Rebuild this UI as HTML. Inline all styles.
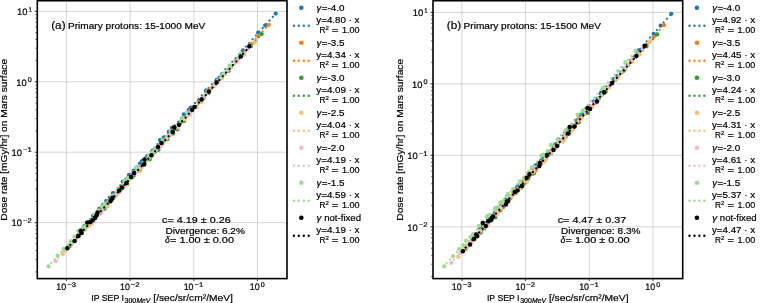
<!DOCTYPE html>
<html><head><meta charset="utf-8"><title>Dose rate vs IP SEP</title>
<style>html,body{margin:0;padding:0;background:#fff;}svg{display:block;will-change:transform;opacity:0.9999;}text{font-family:"Liberation Sans", sans-serif;fill:#000;stroke:#000;stroke-width:0.2px;}.g{text-rendering:geometricPrecision;}</style></head><body>
<svg width="760" height="303" viewBox="0 0 760 303" font-family='"Liberation Sans", sans-serif'>
<defs>
<clipPath id="clipa"><rect x="37.3" y="0.7" width="249.7" height="277.90000000000003"/></clipPath>
<clipPath id="clipb"><rect x="433.0" y="0.7" width="249.70000000000005" height="277.90000000000003"/></clipPath>
</defs>
<rect width="760" height="303" fill="#fff"/>
<rect x="37.3" y="0.7" width="249.7" height="277.90000000000003" fill="#fff"/>
<line x1="66.40" y1="0.7" x2="66.40" y2="278.6" stroke="#c4c4c4" stroke-width="0.72"/>
<line x1="130.10" y1="0.7" x2="130.10" y2="278.6" stroke="#c4c4c4" stroke-width="0.72"/>
<line x1="193.80" y1="0.7" x2="193.80" y2="278.6" stroke="#c4c4c4" stroke-width="0.72"/>
<line x1="257.50" y1="0.7" x2="257.50" y2="278.6" stroke="#c4c4c4" stroke-width="0.72"/>
<line x1="37.3" y1="11.40" x2="287.0" y2="11.40" stroke="#c4c4c4" stroke-width="0.72"/>
<line x1="37.3" y1="81.80" x2="287.0" y2="81.80" stroke="#c4c4c4" stroke-width="0.72"/>
<line x1="37.3" y1="152.20" x2="287.0" y2="152.20" stroke="#c4c4c4" stroke-width="0.72"/>
<line x1="37.3" y1="222.60" x2="287.0" y2="222.60" stroke="#c4c4c4" stroke-width="0.72"/>
<g clip-path="url(#clipa)">
<g fill="#1f77b4"><circle cx="84.2" cy="226.0" r="2.12"/><circle cx="93.0" cy="215.9" r="2.12"/><circle cx="99.3" cy="208.8" r="2.12"/><circle cx="103.0" cy="204.9" r="2.12"/><circle cx="106.2" cy="201.0" r="2.12"/><circle cx="109.7" cy="197.5" r="2.12"/><circle cx="112.9" cy="193.1" r="2.12"/><circle cx="118.2" cy="189.0" r="2.12"/><circle cx="122.7" cy="181.6" r="2.12"/><circle cx="126.6" cy="178.8" r="2.12"/><circle cx="129.0" cy="174.8" r="2.12"/><circle cx="133.7" cy="170.6" r="2.12"/><circle cx="136.6" cy="167.5" r="2.12"/><circle cx="139.9" cy="163.5" r="2.12"/><circle cx="141.9" cy="161.0" r="2.12"/><circle cx="146.4" cy="157.5" r="2.12"/><circle cx="147.5" cy="155.9" r="2.12"/><circle cx="152.7" cy="150.5" r="2.12"/><circle cx="159.9" cy="140.1" r="2.12"/><circle cx="163.8" cy="137.4" r="2.12"/><circle cx="168.9" cy="131.6" r="2.12"/><circle cx="171.9" cy="127.8" r="2.12"/><circle cx="181.9" cy="118.7" r="2.12"/><circle cx="183.8" cy="114.3" r="2.12"/><circle cx="188.6" cy="109.9" r="2.12"/><circle cx="190.6" cy="107.8" r="2.12"/><circle cx="198.6" cy="101.3" r="2.12"/><circle cx="206.1" cy="90.3" r="2.12"/><circle cx="217.0" cy="79.6" r="2.12"/><circle cx="222.0" cy="74.2" r="2.12"/><circle cx="242.9" cy="50.4" r="2.12"/><circle cx="258.1" cy="32.6" r="2.12"/><circle cx="265.2" cy="25.3" r="2.12"/><circle cx="275.7" cy="13.6" r="2.12"/></g>
<line x1="275.67" y1="13.76" x2="84.19" y2="225.38" stroke="#1f77b4" stroke-width="2.25" stroke-linecap="round" stroke-dasharray="0.01 5.04" stroke-dashoffset="0.95"/>
<g fill="#ff7f0e"><circle cx="77.2" cy="236.0" r="2.12"/><circle cx="85.9" cy="226.3" r="2.12"/><circle cx="92.1" cy="219.7" r="2.12"/><circle cx="96.1" cy="215.7" r="2.12"/><circle cx="98.4" cy="213.3" r="2.12"/><circle cx="102.6" cy="207.9" r="2.12"/><circle cx="107.1" cy="202.9" r="2.12"/><circle cx="112.2" cy="198.1" r="2.12"/><circle cx="114.5" cy="196.3" r="2.12"/><circle cx="119.5" cy="188.4" r="2.12"/><circle cx="121.8" cy="186.3" r="2.12"/><circle cx="126.9" cy="181.3" r="2.12"/><circle cx="130.3" cy="177.9" r="2.12"/><circle cx="132.3" cy="174.7" r="2.12"/><circle cx="134.3" cy="173.6" r="2.12"/><circle cx="139.2" cy="167.9" r="2.12"/><circle cx="140.2" cy="168.6" r="2.12"/><circle cx="145.9" cy="159.7" r="2.12"/><circle cx="152.2" cy="152.9" r="2.12"/><circle cx="155.9" cy="149.6" r="2.12"/><circle cx="162.7" cy="141.5" r="2.12"/><circle cx="165.0" cy="139.8" r="2.12"/><circle cx="174.7" cy="127.9" r="2.12"/><circle cx="177.5" cy="125.5" r="2.12"/><circle cx="181.4" cy="121.7" r="2.12"/><circle cx="183.3" cy="119.4" r="2.12"/><circle cx="190.3" cy="110.6" r="2.12"/><circle cx="199.4" cy="101.3" r="2.12"/><circle cx="210.2" cy="88.7" r="2.12"/><circle cx="214.9" cy="85.0" r="2.12"/><circle cx="235.8" cy="60.9" r="2.12"/><circle cx="250.8" cy="44.4" r="2.12"/><circle cx="258.2" cy="35.9" r="2.12"/><circle cx="268.6" cy="24.9" r="2.12"/></g>
<line x1="268.63" y1="24.62" x2="77.19" y2="236.20" stroke="#ff7f0e" stroke-width="2.25" stroke-linecap="round" stroke-dasharray="0.01 5.04" stroke-dashoffset="0.95"/>
<g fill="#2ca02c"><circle cx="70.1" cy="245.8" r="2.12"/><circle cx="78.7" cy="236.3" r="2.12"/><circle cx="85.1" cy="229.1" r="2.12"/><circle cx="88.6" cy="225.2" r="2.12"/><circle cx="91.9" cy="221.2" r="2.12"/><circle cx="96.3" cy="216.2" r="2.12"/><circle cx="100.0" cy="213.5" r="2.12"/><circle cx="104.7" cy="208.7" r="2.12"/><circle cx="107.3" cy="204.6" r="2.12"/><circle cx="112.8" cy="198.6" r="2.12"/><circle cx="115.6" cy="195.4" r="2.12"/><circle cx="120.3" cy="190.4" r="2.12"/><circle cx="122.8" cy="187.7" r="2.12"/><circle cx="126.5" cy="184.2" r="2.12"/><circle cx="127.2" cy="184.1" r="2.12"/><circle cx="132.6" cy="177.2" r="2.12"/><circle cx="133.6" cy="176.1" r="2.12"/><circle cx="139.4" cy="170.7" r="2.12"/><circle cx="144.8" cy="164.0" r="2.12"/><circle cx="149.8" cy="159.4" r="2.12"/><circle cx="154.9" cy="151.7" r="2.12"/><circle cx="158.4" cy="149.9" r="2.12"/><circle cx="167.5" cy="139.1" r="2.12"/><circle cx="170.0" cy="134.7" r="2.12"/><circle cx="173.2" cy="133.6" r="2.12"/><circle cx="177.3" cy="129.4" r="2.12"/><circle cx="184.1" cy="120.9" r="2.12"/><circle cx="192.1" cy="110.1" r="2.12"/><circle cx="203.3" cy="98.4" r="2.12"/><circle cx="208.5" cy="93.2" r="2.12"/><circle cx="228.7" cy="70.9" r="2.12"/><circle cx="243.7" cy="54.2" r="2.12"/><circle cx="251.2" cy="46.1" r="2.12"/><circle cx="261.7" cy="34.1" r="2.12"/></g>
<line x1="261.73" y1="34.06" x2="70.13" y2="245.82" stroke="#2ca02c" stroke-width="2.25" stroke-linecap="round" stroke-dasharray="0.01 5.04" stroke-dashoffset="0.95"/>
<g fill="#ffbb78"><circle cx="62.8" cy="254.0" r="2.12"/><circle cx="71.8" cy="244.4" r="2.12"/><circle cx="77.9" cy="237.3" r="2.12"/><circle cx="81.9" cy="231.5" r="2.12"/><circle cx="84.6" cy="229.6" r="2.12"/><circle cx="88.9" cy="225.9" r="2.12"/><circle cx="91.8" cy="223.7" r="2.12"/><circle cx="98.1" cy="214.7" r="2.12"/><circle cx="101.2" cy="212.7" r="2.12"/><circle cx="104.8" cy="207.1" r="2.12"/><circle cx="107.7" cy="206.3" r="2.12"/><circle cx="113.5" cy="198.2" r="2.12"/><circle cx="116.0" cy="194.9" r="2.12"/><circle cx="118.2" cy="193.2" r="2.12"/><circle cx="120.6" cy="190.5" r="2.12"/><circle cx="124.8" cy="185.2" r="2.12"/><circle cx="126.4" cy="184.8" r="2.12"/><circle cx="132.2" cy="177.6" r="2.12"/><circle cx="138.6" cy="170.9" r="2.12"/><circle cx="141.5" cy="167.2" r="2.12"/><circle cx="148.4" cy="158.4" r="2.12"/><circle cx="151.3" cy="156.1" r="2.12"/><circle cx="159.9" cy="146.9" r="2.12"/><circle cx="162.2" cy="144.6" r="2.12"/><circle cx="166.6" cy="138.0" r="2.12"/><circle cx="169.3" cy="136.3" r="2.12"/><circle cx="176.2" cy="127.8" r="2.12"/><circle cx="184.8" cy="119.1" r="2.12"/><circle cx="196.5" cy="107.4" r="2.12"/><circle cx="201.6" cy="102.1" r="2.12"/><circle cx="221.8" cy="78.5" r="2.12"/><circle cx="236.6" cy="61.9" r="2.12"/><circle cx="243.9" cy="54.6" r="2.12"/><circle cx="254.4" cy="42.5" r="2.12"/></g>
<line x1="254.40" y1="42.53" x2="62.83" y2="254.26" stroke="#ffbb78" stroke-width="2.25" stroke-linecap="round" stroke-dasharray="0.01 5.04" stroke-dashoffset="0.95"/>
<g fill="#f7b6d2"><circle cx="55.7" cy="261.2" r="2.12"/><circle cx="64.6" cy="250.8" r="2.12"/><circle cx="70.9" cy="244.2" r="2.12"/><circle cx="75.0" cy="240.5" r="2.12"/><circle cx="78.2" cy="234.5" r="2.12"/><circle cx="81.9" cy="231.0" r="2.12"/><circle cx="84.6" cy="230.2" r="2.12"/><circle cx="91.0" cy="221.7" r="2.12"/><circle cx="93.4" cy="220.9" r="2.12"/><circle cx="98.4" cy="214.5" r="2.12"/><circle cx="101.7" cy="211.4" r="2.12"/><circle cx="105.5" cy="205.7" r="2.12"/><circle cx="108.9" cy="201.7" r="2.12"/><circle cx="111.9" cy="200.0" r="2.12"/><circle cx="113.2" cy="195.6" r="2.12"/><circle cx="118.5" cy="193.0" r="2.12"/><circle cx="119.2" cy="190.7" r="2.12"/><circle cx="125.2" cy="185.0" r="2.12"/><circle cx="131.3" cy="177.7" r="2.12"/><circle cx="135.0" cy="173.1" r="2.12"/><circle cx="140.9" cy="166.8" r="2.12"/><circle cx="143.4" cy="165.0" r="2.12"/><circle cx="153.5" cy="151.5" r="2.12"/><circle cx="155.1" cy="150.5" r="2.12"/><circle cx="159.4" cy="146.3" r="2.12"/><circle cx="162.1" cy="143.9" r="2.12"/><circle cx="169.6" cy="135.4" r="2.12"/><circle cx="178.1" cy="127.4" r="2.12"/><circle cx="189.8" cy="114.9" r="2.12"/><circle cx="193.3" cy="108.8" r="2.12"/><circle cx="214.5" cy="85.7" r="2.12"/><circle cx="229.7" cy="68.8" r="2.12"/><circle cx="236.9" cy="61.3" r="2.12"/><circle cx="247.4" cy="49.2" r="2.12"/></g>
<line x1="247.42" y1="49.14" x2="55.73" y2="260.99" stroke="#f7b6d2" stroke-width="2.25" stroke-linecap="round" stroke-dasharray="0.01 5.04" stroke-dashoffset="0.95"/>
<g fill="#98df8a"><circle cx="48.6" cy="266.4" r="2.12"/><circle cx="57.6" cy="255.7" r="2.12"/><circle cx="63.7" cy="248.9" r="2.12"/><circle cx="67.5" cy="246.9" r="2.12"/><circle cx="70.6" cy="241.4" r="2.12"/><circle cx="74.5" cy="236.5" r="2.12"/><circle cx="78.1" cy="231.2" r="2.12"/><circle cx="83.3" cy="227.3" r="2.12"/><circle cx="86.4" cy="224.0" r="2.12"/><circle cx="90.9" cy="220.4" r="2.12"/><circle cx="94.3" cy="214.6" r="2.12"/><circle cx="98.7" cy="210.3" r="2.12"/><circle cx="102.1" cy="206.3" r="2.12"/><circle cx="104.5" cy="204.7" r="2.12"/><circle cx="106.0" cy="204.1" r="2.12"/><circle cx="111.3" cy="196.2" r="2.12"/><circle cx="112.0" cy="196.3" r="2.12"/><circle cx="117.7" cy="189.2" r="2.12"/><circle cx="124.3" cy="181.4" r="2.12"/><circle cx="127.3" cy="178.0" r="2.12"/><circle cx="133.3" cy="172.3" r="2.12"/><circle cx="136.8" cy="167.4" r="2.12"/><circle cx="145.8" cy="159.0" r="2.12"/><circle cx="148.8" cy="155.6" r="2.12"/><circle cx="152.0" cy="152.5" r="2.12"/><circle cx="155.1" cy="148.4" r="2.12"/><circle cx="162.5" cy="140.9" r="2.12"/><circle cx="170.6" cy="131.0" r="2.12"/><circle cx="182.1" cy="118.2" r="2.12"/><circle cx="187.0" cy="112.7" r="2.12"/><circle cx="207.5" cy="91.0" r="2.12"/><circle cx="222.5" cy="74.0" r="2.12"/><circle cx="229.9" cy="65.7" r="2.12"/><circle cx="240.4" cy="53.7" r="2.12"/></g>
<line x1="240.39" y1="54.11" x2="48.64" y2="266.03" stroke="#98df8a" stroke-width="2.25" stroke-linecap="round" stroke-dasharray="0.01 5.04" stroke-dashoffset="0.95"/>
<g fill="#000"><circle cx="67.4" cy="248.2" r="2.25"/><circle cx="74.6" cy="241.0" r="2.25"/><circle cx="78.3" cy="236.1" r="2.25"/><circle cx="80.7" cy="230.8" r="2.25"/><circle cx="81.7" cy="233.0" r="2.25"/><circle cx="87.3" cy="222.6" r="2.25"/><circle cx="90.3" cy="222.0" r="2.25"/><circle cx="92.6" cy="220.3" r="2.25"/><circle cx="95.0" cy="217.9" r="2.25"/><circle cx="96.5" cy="215.2" r="2.25"/><circle cx="97.6" cy="212.5" r="2.25"/><circle cx="110.4" cy="201.2" r="2.25"/><circle cx="111.6" cy="199.3" r="2.25"/><circle cx="112.6" cy="197.7" r="2.25"/><circle cx="119.2" cy="190.4" r="2.25"/><circle cx="121.9" cy="187.4" r="2.25"/><circle cx="126.4" cy="182.9" r="2.25"/><circle cx="131.2" cy="177.1" r="2.25"/><circle cx="134.0" cy="172.9" r="2.25"/><circle cx="143.8" cy="164.4" r="2.25"/><circle cx="144.5" cy="159.4" r="2.25"/><circle cx="151.5" cy="155.2" r="2.25"/><circle cx="158.0" cy="147.1" r="2.25"/><circle cx="161.5" cy="143.1" r="2.25"/><circle cx="172.7" cy="131.7" r="2.25"/><circle cx="174.2" cy="127.2" r="2.25"/><circle cx="179.1" cy="124.7" r="2.25"/><circle cx="192.1" cy="109.7" r="2.25"/><circle cx="194.5" cy="107.0" r="2.25"/><circle cx="201.5" cy="99.6" r="2.25"/><circle cx="208.8" cy="91.5" r="2.25"/><circle cx="216.6" cy="82.5" r="2.25"/><circle cx="240.8" cy="56.4" r="2.25"/><circle cx="249.3" cy="46.3" r="2.25"/></g>
<line x1="249.30" y1="47.06" x2="67.40" y2="248.09" stroke="#000000" stroke-width="2.25" stroke-linecap="round" stroke-dasharray="0.01 5.04" stroke-dashoffset="0.95"/>
</g>
<line x1="66.40" y1="278.6" x2="66.40" y2="281.0" stroke="#000" stroke-width="0.8"/>
<text x="56.25" y="290.00" font-size="9.4" text-anchor="start" textLength="9.90" lengthAdjust="spacingAndGlyphs" class="g">10</text>
<text x="67.15" y="286.60" font-size="6.7" text-anchor="start" textLength="8.80" lengthAdjust="spacingAndGlyphs" class="g">−3</text>
<line x1="130.10" y1="278.6" x2="130.10" y2="281.0" stroke="#000" stroke-width="0.8"/>
<text x="119.95" y="290.00" font-size="9.4" text-anchor="start" textLength="9.90" lengthAdjust="spacingAndGlyphs" class="g">10</text>
<text x="130.85" y="286.60" font-size="6.7" text-anchor="start" textLength="8.80" lengthAdjust="spacingAndGlyphs" class="g">−2</text>
<line x1="193.80" y1="278.6" x2="193.80" y2="281.0" stroke="#000" stroke-width="0.8"/>
<text x="183.65" y="290.00" font-size="9.4" text-anchor="start" textLength="9.90" lengthAdjust="spacingAndGlyphs" class="g">10</text>
<text x="194.55" y="286.60" font-size="6.7" text-anchor="start" textLength="8.80" lengthAdjust="spacingAndGlyphs" class="g">−1</text>
<line x1="257.50" y1="278.6" x2="257.50" y2="281.0" stroke="#000" stroke-width="0.8"/>
<text x="249.75" y="290.00" font-size="9.4" text-anchor="start" textLength="9.90" lengthAdjust="spacingAndGlyphs" class="g">10</text>
<text x="260.65" y="286.60" font-size="6.7" text-anchor="start" textLength="4.00" lengthAdjust="spacingAndGlyphs" class="g">0</text>
<line x1="34.699999999999996" y1="11.40" x2="37.3" y2="11.40" stroke="#000" stroke-width="0.8"/>
<text x="17.00" y="15.10" font-size="9.4" text-anchor="start" textLength="10.50" lengthAdjust="spacingAndGlyphs" class="g">10</text>
<text x="28.50" y="11.60" font-size="6.8" text-anchor="start" textLength="3.30" lengthAdjust="spacingAndGlyphs" class="g">1</text>
<line x1="34.699999999999996" y1="81.80" x2="37.3" y2="81.80" stroke="#000" stroke-width="0.8"/>
<text x="16.30" y="85.50" font-size="9.4" text-anchor="start" textLength="10.50" lengthAdjust="spacingAndGlyphs" class="g">10</text>
<text x="27.80" y="82.00" font-size="6.8" text-anchor="start" textLength="4.00" lengthAdjust="spacingAndGlyphs" class="g">0</text>
<line x1="34.699999999999996" y1="152.20" x2="37.3" y2="152.20" stroke="#000" stroke-width="0.8"/>
<text x="11.50" y="155.90" font-size="9.4" text-anchor="start" textLength="10.50" lengthAdjust="spacingAndGlyphs" class="g">10</text>
<text x="23.00" y="152.40" font-size="6.8" text-anchor="start" textLength="8.80" lengthAdjust="spacingAndGlyphs" class="g">−1</text>
<line x1="34.699999999999996" y1="222.60" x2="37.3" y2="222.60" stroke="#000" stroke-width="0.8"/>
<text x="11.50" y="226.30" font-size="9.4" text-anchor="start" textLength="10.50" lengthAdjust="spacingAndGlyphs" class="g">10</text>
<text x="23.00" y="222.80" font-size="6.8" text-anchor="start" textLength="8.80" lengthAdjust="spacingAndGlyphs" class="g">−2</text>
<line x1="35.3" y1="271.81" x2="37.3" y2="271.81" stroke="#000" stroke-width="0.55"/>
<line x1="35.3" y1="259.41" x2="37.3" y2="259.41" stroke="#000" stroke-width="0.55"/>
<line x1="35.3" y1="250.61" x2="37.3" y2="250.61" stroke="#000" stroke-width="0.55"/>
<line x1="35.3" y1="243.79" x2="37.3" y2="243.79" stroke="#000" stroke-width="0.55"/>
<line x1="35.3" y1="238.22" x2="37.3" y2="238.22" stroke="#000" stroke-width="0.55"/>
<line x1="35.3" y1="233.51" x2="37.3" y2="233.51" stroke="#000" stroke-width="0.55"/>
<line x1="35.3" y1="229.42" x2="37.3" y2="229.42" stroke="#000" stroke-width="0.55"/>
<line x1="35.3" y1="225.82" x2="37.3" y2="225.82" stroke="#000" stroke-width="0.55"/>
<line x1="35.3" y1="201.41" x2="37.3" y2="201.41" stroke="#000" stroke-width="0.55"/>
<line x1="35.3" y1="189.01" x2="37.3" y2="189.01" stroke="#000" stroke-width="0.55"/>
<line x1="35.3" y1="180.21" x2="37.3" y2="180.21" stroke="#000" stroke-width="0.55"/>
<line x1="35.3" y1="173.39" x2="37.3" y2="173.39" stroke="#000" stroke-width="0.55"/>
<line x1="35.3" y1="167.82" x2="37.3" y2="167.82" stroke="#000" stroke-width="0.55"/>
<line x1="35.3" y1="163.11" x2="37.3" y2="163.11" stroke="#000" stroke-width="0.55"/>
<line x1="35.3" y1="159.02" x2="37.3" y2="159.02" stroke="#000" stroke-width="0.55"/>
<line x1="35.3" y1="155.42" x2="37.3" y2="155.42" stroke="#000" stroke-width="0.55"/>
<line x1="35.3" y1="131.01" x2="37.3" y2="131.01" stroke="#000" stroke-width="0.55"/>
<line x1="35.3" y1="118.61" x2="37.3" y2="118.61" stroke="#000" stroke-width="0.55"/>
<line x1="35.3" y1="109.81" x2="37.3" y2="109.81" stroke="#000" stroke-width="0.55"/>
<line x1="35.3" y1="102.99" x2="37.3" y2="102.99" stroke="#000" stroke-width="0.55"/>
<line x1="35.3" y1="97.42" x2="37.3" y2="97.42" stroke="#000" stroke-width="0.55"/>
<line x1="35.3" y1="92.71" x2="37.3" y2="92.71" stroke="#000" stroke-width="0.55"/>
<line x1="35.3" y1="88.62" x2="37.3" y2="88.62" stroke="#000" stroke-width="0.55"/>
<line x1="35.3" y1="85.02" x2="37.3" y2="85.02" stroke="#000" stroke-width="0.55"/>
<line x1="35.3" y1="60.61" x2="37.3" y2="60.61" stroke="#000" stroke-width="0.55"/>
<line x1="35.3" y1="48.21" x2="37.3" y2="48.21" stroke="#000" stroke-width="0.55"/>
<line x1="35.3" y1="39.41" x2="37.3" y2="39.41" stroke="#000" stroke-width="0.55"/>
<line x1="35.3" y1="32.59" x2="37.3" y2="32.59" stroke="#000" stroke-width="0.55"/>
<line x1="35.3" y1="27.02" x2="37.3" y2="27.02" stroke="#000" stroke-width="0.55"/>
<line x1="35.3" y1="22.31" x2="37.3" y2="22.31" stroke="#000" stroke-width="0.55"/>
<line x1="35.3" y1="18.22" x2="37.3" y2="18.22" stroke="#000" stroke-width="0.55"/>
<line x1="35.3" y1="14.62" x2="37.3" y2="14.62" stroke="#000" stroke-width="0.55"/>
<rect x="37.3" y="0.7" width="249.7" height="277.90000000000003" fill="none" stroke="#000" stroke-width="1.6"/>
<text transform="translate(7.40,220.7) rotate(-90)" font-size="9.6" textLength="161.8" lengthAdjust="spacingAndGlyphs">Dose rate [mGy/hr] on Mars surface</text>
<text x="91.30" y="301.30" font-size="9.0" text-anchor="start" textLength="32.60" lengthAdjust="spacingAndGlyphs">IP SEP I</text>
<text x="124.60" y="303.30" font-size="6.4" text-anchor="start" textLength="11.60" lengthAdjust="spacingAndGlyphs">300</text>
<text x="136.40" y="303.30" font-size="6.4" text-anchor="start" textLength="14.00" lengthAdjust="spacingAndGlyphs" font-style="italic">MeV</text>
<text x="153.30" y="301.30" font-size="9.0" text-anchor="start" textLength="79.60" lengthAdjust="spacingAndGlyphs">[/sec/sr/cm²/MeV]</text>
<text x="51.20" y="28.50" font-size="10.8" text-anchor="start" textLength="14.40" lengthAdjust="spacingAndGlyphs">(a)</text>
<text x="68.00" y="28.60" font-size="9.0" text-anchor="start" textLength="137.30" lengthAdjust="spacingAndGlyphs">Primary protons: 15-1000 MeV</text>
<text x="162.10" y="223.30" font-size="9.0" text-anchor="start" textLength="68.60" lengthAdjust="spacingAndGlyphs">c= 4.19 ± 0.26</text>
<text x="165.50" y="233.90" font-size="9.0" text-anchor="start" textLength="79.40" lengthAdjust="spacingAndGlyphs">Divergence: 6.2%</text>
<text x="164.90" y="243.30" font-size="9.0" text-anchor="start" textLength="4.80" lengthAdjust="spacingAndGlyphs" font-style="italic">δ</text>
<text x="170.00" y="243.30" font-size="9.0" text-anchor="start" textLength="64.00" lengthAdjust="spacingAndGlyphs">= 1.00 ± 0.00</text>
<circle cx="301.30" cy="7.70" r="2.3" fill="#1f77b4"/>
<text x="316.60" y="10.80" font-size="9.0" text-anchor="start" textLength="4.90" lengthAdjust="spacingAndGlyphs" font-style="italic">γ</text>
<text x="321.80" y="10.80" font-size="9.0" text-anchor="start" textLength="22.80" lengthAdjust="spacingAndGlyphs">=-4.0</text>
<line x1="292.90" y1="25.80" x2="309.90" y2="25.80" stroke="#1f77b4" stroke-width="2.4" stroke-linecap="round" stroke-dasharray="0.01 4.94" stroke-dashoffset="-1.0"/>
<text x="316.30" y="23.30" font-size="9.0" text-anchor="start" textLength="43.20" lengthAdjust="spacingAndGlyphs">y=4.80 · x</text>
<text x="319.50" y="33.20" font-size="9.0" text-anchor="start" textLength="6.00" lengthAdjust="spacingAndGlyphs">R</text>
<text x="325.50" y="30.00" font-size="6.2" text-anchor="start" textLength="3.40" lengthAdjust="spacingAndGlyphs">2</text>
<text x="331.80" y="33.20" font-size="9.0" text-anchor="start" textLength="6.60" lengthAdjust="spacingAndGlyphs">=</text>
<text x="342.00" y="33.20" font-size="9.0" text-anchor="start" textLength="17.60" lengthAdjust="spacingAndGlyphs">1.00</text>
<circle cx="301.30" cy="42.70" r="2.3" fill="#ff7f0e"/>
<text x="316.60" y="45.80" font-size="9.0" text-anchor="start" textLength="4.90" lengthAdjust="spacingAndGlyphs" font-style="italic">γ</text>
<text x="321.80" y="45.80" font-size="9.0" text-anchor="start" textLength="22.80" lengthAdjust="spacingAndGlyphs">=-3.5</text>
<line x1="292.90" y1="60.80" x2="309.90" y2="60.80" stroke="#ff7f0e" stroke-width="2.4" stroke-linecap="round" stroke-dasharray="0.01 4.94" stroke-dashoffset="-1.0"/>
<text x="316.30" y="58.30" font-size="9.0" text-anchor="start" textLength="43.20" lengthAdjust="spacingAndGlyphs">y=4.34 · x</text>
<text x="319.50" y="68.20" font-size="9.0" text-anchor="start" textLength="6.00" lengthAdjust="spacingAndGlyphs">R</text>
<text x="325.50" y="65.00" font-size="6.2" text-anchor="start" textLength="3.40" lengthAdjust="spacingAndGlyphs">2</text>
<text x="331.80" y="68.20" font-size="9.0" text-anchor="start" textLength="6.60" lengthAdjust="spacingAndGlyphs">=</text>
<text x="342.00" y="68.20" font-size="9.0" text-anchor="start" textLength="17.60" lengthAdjust="spacingAndGlyphs">1.00</text>
<circle cx="301.30" cy="77.70" r="2.3" fill="#2ca02c"/>
<text x="316.60" y="80.80" font-size="9.0" text-anchor="start" textLength="4.90" lengthAdjust="spacingAndGlyphs" font-style="italic">γ</text>
<text x="321.80" y="80.80" font-size="9.0" text-anchor="start" textLength="22.80" lengthAdjust="spacingAndGlyphs">=-3.0</text>
<line x1="292.90" y1="95.80" x2="309.90" y2="95.80" stroke="#2ca02c" stroke-width="2.4" stroke-linecap="round" stroke-dasharray="0.01 4.94" stroke-dashoffset="-1.0"/>
<text x="316.30" y="93.30" font-size="9.0" text-anchor="start" textLength="43.20" lengthAdjust="spacingAndGlyphs">y=4.09 · x</text>
<text x="319.50" y="103.20" font-size="9.0" text-anchor="start" textLength="6.00" lengthAdjust="spacingAndGlyphs">R</text>
<text x="325.50" y="100.00" font-size="6.2" text-anchor="start" textLength="3.40" lengthAdjust="spacingAndGlyphs">2</text>
<text x="331.80" y="103.20" font-size="9.0" text-anchor="start" textLength="6.60" lengthAdjust="spacingAndGlyphs">=</text>
<text x="342.00" y="103.20" font-size="9.0" text-anchor="start" textLength="17.60" lengthAdjust="spacingAndGlyphs">1.00</text>
<circle cx="301.30" cy="112.70" r="2.3" fill="#ffbb78"/>
<text x="316.60" y="115.80" font-size="9.0" text-anchor="start" textLength="4.90" lengthAdjust="spacingAndGlyphs" font-style="italic">γ</text>
<text x="321.80" y="115.80" font-size="9.0" text-anchor="start" textLength="22.80" lengthAdjust="spacingAndGlyphs">=-2.5</text>
<line x1="292.90" y1="130.80" x2="309.90" y2="130.80" stroke="#ffbb78" stroke-width="2.4" stroke-linecap="round" stroke-dasharray="0.01 4.94" stroke-dashoffset="-1.0"/>
<text x="316.30" y="128.30" font-size="9.0" text-anchor="start" textLength="43.20" lengthAdjust="spacingAndGlyphs">y=4.04 · x</text>
<text x="319.50" y="138.20" font-size="9.0" text-anchor="start" textLength="6.00" lengthAdjust="spacingAndGlyphs">R</text>
<text x="325.50" y="135.00" font-size="6.2" text-anchor="start" textLength="3.40" lengthAdjust="spacingAndGlyphs">2</text>
<text x="331.80" y="138.20" font-size="9.0" text-anchor="start" textLength="6.60" lengthAdjust="spacingAndGlyphs">=</text>
<text x="342.00" y="138.20" font-size="9.0" text-anchor="start" textLength="17.60" lengthAdjust="spacingAndGlyphs">1.00</text>
<circle cx="301.30" cy="147.70" r="2.3" fill="#f7b6d2"/>
<text x="316.60" y="150.80" font-size="9.0" text-anchor="start" textLength="4.90" lengthAdjust="spacingAndGlyphs" font-style="italic">γ</text>
<text x="321.80" y="150.80" font-size="9.0" text-anchor="start" textLength="22.80" lengthAdjust="spacingAndGlyphs">=-2.0</text>
<line x1="292.90" y1="165.80" x2="309.90" y2="165.80" stroke="#f7b6d2" stroke-width="2.4" stroke-linecap="round" stroke-dasharray="0.01 4.94" stroke-dashoffset="-1.0"/>
<text x="316.30" y="163.30" font-size="9.0" text-anchor="start" textLength="43.20" lengthAdjust="spacingAndGlyphs">y=4.19 · x</text>
<text x="319.50" y="173.20" font-size="9.0" text-anchor="start" textLength="6.00" lengthAdjust="spacingAndGlyphs">R</text>
<text x="325.50" y="170.00" font-size="6.2" text-anchor="start" textLength="3.40" lengthAdjust="spacingAndGlyphs">2</text>
<text x="331.80" y="173.20" font-size="9.0" text-anchor="start" textLength="6.60" lengthAdjust="spacingAndGlyphs">=</text>
<text x="342.00" y="173.20" font-size="9.0" text-anchor="start" textLength="17.60" lengthAdjust="spacingAndGlyphs">1.00</text>
<circle cx="301.30" cy="182.70" r="2.3" fill="#98df8a"/>
<text x="316.60" y="185.80" font-size="9.0" text-anchor="start" textLength="4.90" lengthAdjust="spacingAndGlyphs" font-style="italic">γ</text>
<text x="321.80" y="185.80" font-size="9.0" text-anchor="start" textLength="22.80" lengthAdjust="spacingAndGlyphs">=-1.5</text>
<line x1="292.90" y1="200.80" x2="309.90" y2="200.80" stroke="#98df8a" stroke-width="2.4" stroke-linecap="round" stroke-dasharray="0.01 4.94" stroke-dashoffset="-1.0"/>
<text x="316.30" y="198.30" font-size="9.0" text-anchor="start" textLength="43.20" lengthAdjust="spacingAndGlyphs">y=4.59 · x</text>
<text x="319.50" y="208.20" font-size="9.0" text-anchor="start" textLength="6.00" lengthAdjust="spacingAndGlyphs">R</text>
<text x="325.50" y="205.00" font-size="6.2" text-anchor="start" textLength="3.40" lengthAdjust="spacingAndGlyphs">2</text>
<text x="331.80" y="208.20" font-size="9.0" text-anchor="start" textLength="6.60" lengthAdjust="spacingAndGlyphs">=</text>
<text x="342.00" y="208.20" font-size="9.0" text-anchor="start" textLength="17.60" lengthAdjust="spacingAndGlyphs">1.00</text>
<circle cx="301.30" cy="217.70" r="2.3" fill="#000000"/>
<text x="316.60" y="220.80" font-size="9.0" text-anchor="start" textLength="4.90" lengthAdjust="spacingAndGlyphs" font-style="italic">γ</text>
<text x="324.20" y="220.80" font-size="9.0" text-anchor="start" textLength="36.80" lengthAdjust="spacingAndGlyphs">not-fixed</text>
<line x1="292.90" y1="235.80" x2="309.90" y2="235.80" stroke="#000000" stroke-width="2.4" stroke-linecap="round" stroke-dasharray="0.01 4.94" stroke-dashoffset="-1.0"/>
<text x="316.30" y="233.30" font-size="9.0" text-anchor="start" textLength="43.20" lengthAdjust="spacingAndGlyphs">y=4.19 · x</text>
<text x="319.50" y="243.20" font-size="9.0" text-anchor="start" textLength="6.00" lengthAdjust="spacingAndGlyphs">R</text>
<text x="325.50" y="240.00" font-size="6.2" text-anchor="start" textLength="3.40" lengthAdjust="spacingAndGlyphs">2</text>
<text x="331.80" y="243.20" font-size="9.0" text-anchor="start" textLength="6.60" lengthAdjust="spacingAndGlyphs">=</text>
<text x="342.00" y="243.20" font-size="9.0" text-anchor="start" textLength="17.60" lengthAdjust="spacingAndGlyphs">1.00</text>
<rect x="433.0" y="0.7" width="249.70000000000005" height="277.90000000000003" fill="#fff"/>
<line x1="461.90" y1="0.7" x2="461.90" y2="278.6" stroke="#c4c4c4" stroke-width="0.72"/>
<line x1="525.60" y1="0.7" x2="525.60" y2="278.6" stroke="#c4c4c4" stroke-width="0.72"/>
<line x1="589.30" y1="0.7" x2="589.30" y2="278.6" stroke="#c4c4c4" stroke-width="0.72"/>
<line x1="653.00" y1="0.7" x2="653.00" y2="278.6" stroke="#c4c4c4" stroke-width="0.72"/>
<line x1="433.0" y1="12.30" x2="682.7" y2="12.30" stroke="#c4c4c4" stroke-width="0.72"/>
<line x1="433.0" y1="83.80" x2="682.7" y2="83.80" stroke="#c4c4c4" stroke-width="0.72"/>
<line x1="433.0" y1="155.30" x2="682.7" y2="155.30" stroke="#c4c4c4" stroke-width="0.72"/>
<line x1="433.0" y1="226.80" x2="682.7" y2="226.80" stroke="#c4c4c4" stroke-width="0.72"/>
<g clip-path="url(#clipb)">
<g fill="#1f77b4"><circle cx="479.8" cy="228.1" r="2.12"/><circle cx="488.4" cy="219.3" r="2.12"/><circle cx="494.8" cy="212.2" r="2.12"/><circle cx="498.0" cy="207.8" r="2.12"/><circle cx="501.1" cy="205.4" r="2.12"/><circle cx="505.4" cy="199.7" r="2.12"/><circle cx="508.3" cy="195.5" r="2.12"/><circle cx="514.2" cy="189.4" r="2.12"/><circle cx="517.5" cy="186.5" r="2.12"/><circle cx="521.3" cy="183.0" r="2.12"/><circle cx="525.4" cy="178.6" r="2.12"/><circle cx="530.0" cy="173.1" r="2.12"/><circle cx="533.2" cy="169.8" r="2.12"/><circle cx="535.3" cy="165.3" r="2.12"/><circle cx="537.6" cy="164.3" r="2.12"/><circle cx="541.1" cy="160.5" r="2.12"/><circle cx="543.0" cy="158.1" r="2.12"/><circle cx="548.4" cy="152.8" r="2.12"/><circle cx="554.9" cy="144.2" r="2.12"/><circle cx="558.8" cy="139.6" r="2.12"/><circle cx="565.1" cy="132.8" r="2.12"/><circle cx="567.4" cy="130.0" r="2.12"/><circle cx="576.4" cy="120.5" r="2.12"/><circle cx="579.9" cy="115.2" r="2.12"/><circle cx="583.3" cy="113.1" r="2.12"/><circle cx="586.2" cy="108.8" r="2.12"/><circle cx="593.9" cy="101.3" r="2.12"/><circle cx="601.1" cy="92.7" r="2.12"/><circle cx="613.5" cy="79.1" r="2.12"/><circle cx="617.4" cy="75.8" r="2.12"/><circle cx="638.5" cy="50.3" r="2.12"/><circle cx="653.6" cy="33.8" r="2.12"/><circle cx="660.7" cy="25.6" r="2.12"/><circle cx="671.3" cy="13.8" r="2.12"/></g>
<line x1="671.27" y1="13.81" x2="479.83" y2="228.70" stroke="#1f77b4" stroke-width="2.25" stroke-linecap="round" stroke-dasharray="0.01 5.04" stroke-dashoffset="3.55"/>
<g fill="#ff7f0e"><circle cx="472.5" cy="239.9" r="2.12"/><circle cx="481.5" cy="230.3" r="2.12"/><circle cx="487.8" cy="222.5" r="2.12"/><circle cx="492.1" cy="218.4" r="2.12"/><circle cx="494.7" cy="216.4" r="2.12"/><circle cx="498.2" cy="209.3" r="2.12"/><circle cx="501.5" cy="206.7" r="2.12"/><circle cx="506.8" cy="201.1" r="2.12"/><circle cx="511.0" cy="196.3" r="2.12"/><circle cx="514.2" cy="193.4" r="2.12"/><circle cx="517.9" cy="188.5" r="2.12"/><circle cx="523.1" cy="182.3" r="2.12"/><circle cx="525.1" cy="182.7" r="2.12"/><circle cx="528.3" cy="176.5" r="2.12"/><circle cx="530.2" cy="174.1" r="2.12"/><circle cx="535.2" cy="170.7" r="2.12"/><circle cx="536.2" cy="169.7" r="2.12"/><circle cx="541.9" cy="161.5" r="2.12"/><circle cx="547.8" cy="155.5" r="2.12"/><circle cx="551.8" cy="150.3" r="2.12"/><circle cx="558.0" cy="145.1" r="2.12"/><circle cx="561.4" cy="140.7" r="2.12"/><circle cx="569.4" cy="131.9" r="2.12"/><circle cx="572.5" cy="128.4" r="2.12"/><circle cx="576.9" cy="122.9" r="2.12"/><circle cx="578.8" cy="118.6" r="2.12"/><circle cx="586.5" cy="112.7" r="2.12"/><circle cx="594.7" cy="103.1" r="2.12"/><circle cx="606.0" cy="91.5" r="2.12"/><circle cx="610.0" cy="85.3" r="2.12"/><circle cx="631.4" cy="61.7" r="2.12"/><circle cx="646.5" cy="44.9" r="2.12"/><circle cx="653.6" cy="36.8" r="2.12"/><circle cx="664.2" cy="25.0" r="2.12"/></g>
<line x1="664.18" y1="24.89" x2="472.46" y2="240.09" stroke="#ff7f0e" stroke-width="2.25" stroke-linecap="round" stroke-dasharray="0.01 5.04" stroke-dashoffset="3.55"/>
<g fill="#2ca02c"><circle cx="465.5" cy="249.0" r="2.12"/><circle cx="474.3" cy="239.3" r="2.12"/><circle cx="480.7" cy="232.7" r="2.12"/><circle cx="484.3" cy="228.5" r="2.12"/><circle cx="487.0" cy="225.0" r="2.12"/><circle cx="491.8" cy="220.1" r="2.12"/><circle cx="495.3" cy="217.4" r="2.12"/><circle cx="500.3" cy="210.3" r="2.12"/><circle cx="503.4" cy="207.0" r="2.12"/><circle cx="507.5" cy="201.5" r="2.12"/><circle cx="510.5" cy="198.1" r="2.12"/><circle cx="515.4" cy="193.5" r="2.12"/><circle cx="518.2" cy="189.9" r="2.12"/><circle cx="521.4" cy="187.6" r="2.12"/><circle cx="523.0" cy="185.0" r="2.12"/><circle cx="527.1" cy="179.9" r="2.12"/><circle cx="528.5" cy="178.1" r="2.12"/><circle cx="533.8" cy="173.6" r="2.12"/><circle cx="540.4" cy="164.5" r="2.12"/><circle cx="544.7" cy="159.7" r="2.12"/><circle cx="551.0" cy="153.5" r="2.12"/><circle cx="553.4" cy="149.0" r="2.12"/><circle cx="563.5" cy="139.6" r="2.12"/><circle cx="565.7" cy="137.1" r="2.12"/><circle cx="569.0" cy="133.6" r="2.12"/><circle cx="572.8" cy="128.6" r="2.12"/><circle cx="578.7" cy="122.4" r="2.12"/><circle cx="587.8" cy="113.0" r="2.12"/><circle cx="598.6" cy="98.3" r="2.12"/><circle cx="603.8" cy="93.2" r="2.12"/><circle cx="624.2" cy="70.6" r="2.12"/><circle cx="639.2" cy="54.5" r="2.12"/><circle cx="646.5" cy="46.4" r="2.12"/><circle cx="657.2" cy="34.4" r="2.12"/></g>
<line x1="657.17" y1="34.26" x2="465.48" y2="249.43" stroke="#2ca02c" stroke-width="2.25" stroke-linecap="round" stroke-dasharray="0.01 5.04" stroke-dashoffset="3.55"/>
<g fill="#ffbb78"><circle cx="458.4" cy="257.0" r="2.12"/><circle cx="467.3" cy="247.3" r="2.12"/><circle cx="473.6" cy="240.1" r="2.12"/><circle cx="477.0" cy="236.7" r="2.12"/><circle cx="479.7" cy="231.6" r="2.12"/><circle cx="483.8" cy="227.4" r="2.12"/><circle cx="487.6" cy="224.6" r="2.12"/><circle cx="493.0" cy="216.9" r="2.12"/><circle cx="496.7" cy="214.6" r="2.12"/><circle cx="500.8" cy="208.9" r="2.12"/><circle cx="504.0" cy="205.0" r="2.12"/><circle cx="509.0" cy="200.4" r="2.12"/><circle cx="511.9" cy="196.4" r="2.12"/><circle cx="514.0" cy="194.5" r="2.12"/><circle cx="516.6" cy="191.4" r="2.12"/><circle cx="520.3" cy="187.6" r="2.12"/><circle cx="522.0" cy="185.4" r="2.12"/><circle cx="526.8" cy="181.2" r="2.12"/><circle cx="533.3" cy="172.1" r="2.12"/><circle cx="537.6" cy="167.7" r="2.12"/><circle cx="543.9" cy="161.7" r="2.12"/><circle cx="546.3" cy="158.6" r="2.12"/><circle cx="555.4" cy="148.4" r="2.12"/><circle cx="557.7" cy="146.2" r="2.12"/><circle cx="562.7" cy="141.8" r="2.12"/><circle cx="565.3" cy="138.0" r="2.12"/><circle cx="572.4" cy="130.0" r="2.12"/><circle cx="581.0" cy="118.8" r="2.12"/><circle cx="592.5" cy="106.9" r="2.12"/><circle cx="595.9" cy="103.3" r="2.12"/><circle cx="617.3" cy="78.7" r="2.12"/><circle cx="632.1" cy="61.8" r="2.12"/><circle cx="639.4" cy="54.3" r="2.12"/><circle cx="650.1" cy="41.2" r="2.12"/></g>
<line x1="650.07" y1="41.72" x2="458.39" y2="256.87" stroke="#ffbb78" stroke-width="2.25" stroke-linecap="round" stroke-dasharray="0.01 5.04" stroke-dashoffset="3.55"/>
<g fill="#f7b6d2"><circle cx="451.4" cy="262.8" r="2.12"/><circle cx="460.0" cy="253.2" r="2.12"/><circle cx="466.4" cy="245.4" r="2.12"/><circle cx="470.1" cy="241.2" r="2.12"/><circle cx="473.2" cy="238.0" r="2.12"/><circle cx="477.1" cy="233.6" r="2.12"/><circle cx="480.1" cy="230.9" r="2.12"/><circle cx="486.1" cy="224.3" r="2.12"/><circle cx="489.5" cy="220.8" r="2.12"/><circle cx="493.1" cy="216.5" r="2.12"/><circle cx="496.4" cy="211.5" r="2.12"/><circle cx="501.1" cy="206.9" r="2.12"/><circle cx="504.1" cy="204.9" r="2.12"/><circle cx="506.8" cy="200.9" r="2.12"/><circle cx="509.7" cy="195.6" r="2.12"/><circle cx="513.4" cy="192.8" r="2.12"/><circle cx="515.2" cy="190.3" r="2.12"/><circle cx="520.7" cy="183.7" r="2.12"/><circle cx="526.5" cy="176.8" r="2.12"/><circle cx="531.3" cy="171.7" r="2.12"/><circle cx="535.8" cy="167.8" r="2.12"/><circle cx="539.0" cy="164.6" r="2.12"/><circle cx="549.0" cy="153.5" r="2.12"/><circle cx="551.3" cy="152.6" r="2.12"/><circle cx="555.1" cy="146.4" r="2.12"/><circle cx="558.8" cy="141.0" r="2.12"/><circle cx="565.3" cy="134.4" r="2.12"/><circle cx="573.6" cy="125.8" r="2.12"/><circle cx="585.0" cy="111.2" r="2.12"/><circle cx="588.9" cy="107.6" r="2.12"/><circle cx="610.0" cy="84.2" r="2.12"/><circle cx="625.0" cy="67.6" r="2.12"/><circle cx="632.5" cy="58.8" r="2.12"/><circle cx="643.0" cy="47.6" r="2.12"/></g>
<line x1="642.98" y1="47.59" x2="451.36" y2="262.67" stroke="#f7b6d2" stroke-width="2.25" stroke-linecap="round" stroke-dasharray="0.01 5.04" stroke-dashoffset="3.55"/>
<g fill="#98df8a"><circle cx="444.2" cy="266.4" r="2.12"/><circle cx="453.0" cy="256.3" r="2.12"/><circle cx="459.2" cy="249.1" r="2.12"/><circle cx="463.1" cy="245.5" r="2.12"/><circle cx="466.0" cy="240.8" r="2.12"/><circle cx="470.5" cy="237.0" r="2.12"/><circle cx="472.9" cy="234.3" r="2.12"/><circle cx="479.0" cy="225.8" r="2.12"/><circle cx="482.5" cy="222.6" r="2.12"/><circle cx="486.8" cy="216.6" r="2.12"/><circle cx="489.0" cy="215.0" r="2.12"/><circle cx="495.0" cy="208.1" r="2.12"/><circle cx="497.2" cy="207.4" r="2.12"/><circle cx="500.4" cy="202.4" r="2.12"/><circle cx="502.0" cy="202.2" r="2.12"/><circle cx="506.8" cy="196.0" r="2.12"/><circle cx="507.9" cy="194.1" r="2.12"/><circle cx="513.1" cy="189.2" r="2.12"/><circle cx="519.7" cy="181.7" r="2.12"/><circle cx="524.1" cy="178.4" r="2.12"/><circle cx="528.7" cy="172.0" r="2.12"/><circle cx="532.1" cy="167.4" r="2.12"/><circle cx="541.5" cy="155.3" r="2.12"/><circle cx="543.4" cy="154.7" r="2.12"/><circle cx="547.6" cy="151.1" r="2.12"/><circle cx="550.9" cy="144.9" r="2.12"/><circle cx="557.5" cy="139.4" r="2.12"/><circle cx="565.6" cy="130.0" r="2.12"/><circle cx="577.7" cy="114.6" r="2.12"/><circle cx="582.6" cy="110.7" r="2.12"/><circle cx="602.9" cy="88.2" r="2.12"/><circle cx="618.1" cy="71.0" r="2.12"/><circle cx="625.3" cy="62.1" r="2.12"/><circle cx="635.7" cy="50.8" r="2.12"/></g>
<line x1="635.73" y1="50.99" x2="444.22" y2="265.95" stroke="#98df8a" stroke-width="2.25" stroke-linecap="round" stroke-dasharray="0.01 5.04" stroke-dashoffset="3.55"/>
<g fill="#000"><circle cx="462.9" cy="251.3" r="2.25"/><circle cx="470.1" cy="244.4" r="2.25"/><circle cx="473.8" cy="238.9" r="2.25"/><circle cx="476.2" cy="234.5" r="2.25"/><circle cx="477.2" cy="236.2" r="2.25"/><circle cx="482.8" cy="222.9" r="2.25"/><circle cx="485.8" cy="226.0" r="2.25"/><circle cx="488.1" cy="221.2" r="2.25"/><circle cx="490.5" cy="220.2" r="2.25"/><circle cx="492.0" cy="217.7" r="2.25"/><circle cx="493.1" cy="216.5" r="2.25"/><circle cx="505.9" cy="204.6" r="2.25"/><circle cx="507.1" cy="201.4" r="2.25"/><circle cx="508.1" cy="201.1" r="2.25"/><circle cx="514.7" cy="192.1" r="2.25"/><circle cx="517.4" cy="190.5" r="2.25"/><circle cx="521.9" cy="186.0" r="2.25"/><circle cx="526.7" cy="177.8" r="2.25"/><circle cx="529.5" cy="174.2" r="2.25"/><circle cx="539.3" cy="165.9" r="2.25"/><circle cx="540.0" cy="162.9" r="2.25"/><circle cx="547.0" cy="154.9" r="2.25"/><circle cx="553.5" cy="149.9" r="2.25"/><circle cx="557.0" cy="146.0" r="2.25"/><circle cx="568.2" cy="133.5" r="2.25"/><circle cx="569.7" cy="127.1" r="2.25"/><circle cx="574.6" cy="126.4" r="2.25"/><circle cx="587.6" cy="108.0" r="2.25"/><circle cx="590.0" cy="108.9" r="2.25"/><circle cx="597.0" cy="101.4" r="2.25"/><circle cx="604.3" cy="92.2" r="2.25"/><circle cx="612.1" cy="82.9" r="2.25"/><circle cx="636.3" cy="56.1" r="2.25"/><circle cx="644.8" cy="45.8" r="2.25"/></g>
<line x1="644.80" y1="46.51" x2="462.90" y2="250.68" stroke="#000000" stroke-width="2.25" stroke-linecap="round" stroke-dasharray="0.01 5.04" stroke-dashoffset="3.55"/>
</g>
<line x1="461.90" y1="278.6" x2="461.90" y2="281.0" stroke="#000" stroke-width="0.8"/>
<text x="451.75" y="290.00" font-size="9.4" text-anchor="start" textLength="9.90" lengthAdjust="spacingAndGlyphs" class="g">10</text>
<text x="462.65" y="286.60" font-size="6.7" text-anchor="start" textLength="8.80" lengthAdjust="spacingAndGlyphs" class="g">−3</text>
<line x1="525.60" y1="278.6" x2="525.60" y2="281.0" stroke="#000" stroke-width="0.8"/>
<text x="515.45" y="290.00" font-size="9.4" text-anchor="start" textLength="9.90" lengthAdjust="spacingAndGlyphs" class="g">10</text>
<text x="526.35" y="286.60" font-size="6.7" text-anchor="start" textLength="8.80" lengthAdjust="spacingAndGlyphs" class="g">−2</text>
<line x1="589.30" y1="278.6" x2="589.30" y2="281.0" stroke="#000" stroke-width="0.8"/>
<text x="579.15" y="290.00" font-size="9.4" text-anchor="start" textLength="9.90" lengthAdjust="spacingAndGlyphs" class="g">10</text>
<text x="590.05" y="286.60" font-size="6.7" text-anchor="start" textLength="8.80" lengthAdjust="spacingAndGlyphs" class="g">−1</text>
<line x1="653.00" y1="278.6" x2="653.00" y2="281.0" stroke="#000" stroke-width="0.8"/>
<text x="645.25" y="290.00" font-size="9.4" text-anchor="start" textLength="9.90" lengthAdjust="spacingAndGlyphs" class="g">10</text>
<text x="656.15" y="286.60" font-size="6.7" text-anchor="start" textLength="4.00" lengthAdjust="spacingAndGlyphs" class="g">0</text>
<line x1="430.4" y1="12.30" x2="433.0" y2="12.30" stroke="#000" stroke-width="0.8"/>
<text x="412.70" y="16.00" font-size="9.4" text-anchor="start" textLength="10.50" lengthAdjust="spacingAndGlyphs" class="g">10</text>
<text x="424.20" y="12.50" font-size="6.8" text-anchor="start" textLength="3.30" lengthAdjust="spacingAndGlyphs" class="g">1</text>
<line x1="430.4" y1="83.80" x2="433.0" y2="83.80" stroke="#000" stroke-width="0.8"/>
<text x="412.00" y="87.50" font-size="9.4" text-anchor="start" textLength="10.50" lengthAdjust="spacingAndGlyphs" class="g">10</text>
<text x="423.50" y="84.00" font-size="6.8" text-anchor="start" textLength="4.00" lengthAdjust="spacingAndGlyphs" class="g">0</text>
<line x1="430.4" y1="155.30" x2="433.0" y2="155.30" stroke="#000" stroke-width="0.8"/>
<text x="407.20" y="159.00" font-size="9.4" text-anchor="start" textLength="10.50" lengthAdjust="spacingAndGlyphs" class="g">10</text>
<text x="418.70" y="155.50" font-size="6.8" text-anchor="start" textLength="8.80" lengthAdjust="spacingAndGlyphs" class="g">−1</text>
<line x1="430.4" y1="226.80" x2="433.0" y2="226.80" stroke="#000" stroke-width="0.8"/>
<text x="407.20" y="230.50" font-size="9.4" text-anchor="start" textLength="10.50" lengthAdjust="spacingAndGlyphs" class="g">10</text>
<text x="418.70" y="227.00" font-size="6.8" text-anchor="start" textLength="8.80" lengthAdjust="spacingAndGlyphs" class="g">−2</text>
<line x1="431.0" y1="276.78" x2="433.0" y2="276.78" stroke="#000" stroke-width="0.55"/>
<line x1="431.0" y1="264.19" x2="433.0" y2="264.19" stroke="#000" stroke-width="0.55"/>
<line x1="431.0" y1="255.25" x2="433.0" y2="255.25" stroke="#000" stroke-width="0.55"/>
<line x1="431.0" y1="248.32" x2="433.0" y2="248.32" stroke="#000" stroke-width="0.55"/>
<line x1="431.0" y1="242.66" x2="433.0" y2="242.66" stroke="#000" stroke-width="0.55"/>
<line x1="431.0" y1="237.88" x2="433.0" y2="237.88" stroke="#000" stroke-width="0.55"/>
<line x1="431.0" y1="233.73" x2="433.0" y2="233.73" stroke="#000" stroke-width="0.55"/>
<line x1="431.0" y1="230.07" x2="433.0" y2="230.07" stroke="#000" stroke-width="0.55"/>
<line x1="431.0" y1="205.28" x2="433.0" y2="205.28" stroke="#000" stroke-width="0.55"/>
<line x1="431.0" y1="192.69" x2="433.0" y2="192.69" stroke="#000" stroke-width="0.55"/>
<line x1="431.0" y1="183.75" x2="433.0" y2="183.75" stroke="#000" stroke-width="0.55"/>
<line x1="431.0" y1="176.82" x2="433.0" y2="176.82" stroke="#000" stroke-width="0.55"/>
<line x1="431.0" y1="171.16" x2="433.0" y2="171.16" stroke="#000" stroke-width="0.55"/>
<line x1="431.0" y1="166.38" x2="433.0" y2="166.38" stroke="#000" stroke-width="0.55"/>
<line x1="431.0" y1="162.23" x2="433.0" y2="162.23" stroke="#000" stroke-width="0.55"/>
<line x1="431.0" y1="158.57" x2="433.0" y2="158.57" stroke="#000" stroke-width="0.55"/>
<line x1="431.0" y1="133.78" x2="433.0" y2="133.78" stroke="#000" stroke-width="0.55"/>
<line x1="431.0" y1="121.19" x2="433.0" y2="121.19" stroke="#000" stroke-width="0.55"/>
<line x1="431.0" y1="112.25" x2="433.0" y2="112.25" stroke="#000" stroke-width="0.55"/>
<line x1="431.0" y1="105.32" x2="433.0" y2="105.32" stroke="#000" stroke-width="0.55"/>
<line x1="431.0" y1="99.66" x2="433.0" y2="99.66" stroke="#000" stroke-width="0.55"/>
<line x1="431.0" y1="94.88" x2="433.0" y2="94.88" stroke="#000" stroke-width="0.55"/>
<line x1="431.0" y1="90.73" x2="433.0" y2="90.73" stroke="#000" stroke-width="0.55"/>
<line x1="431.0" y1="87.07" x2="433.0" y2="87.07" stroke="#000" stroke-width="0.55"/>
<line x1="431.0" y1="62.28" x2="433.0" y2="62.28" stroke="#000" stroke-width="0.55"/>
<line x1="431.0" y1="49.69" x2="433.0" y2="49.69" stroke="#000" stroke-width="0.55"/>
<line x1="431.0" y1="40.75" x2="433.0" y2="40.75" stroke="#000" stroke-width="0.55"/>
<line x1="431.0" y1="33.82" x2="433.0" y2="33.82" stroke="#000" stroke-width="0.55"/>
<line x1="431.0" y1="28.16" x2="433.0" y2="28.16" stroke="#000" stroke-width="0.55"/>
<line x1="431.0" y1="23.38" x2="433.0" y2="23.38" stroke="#000" stroke-width="0.55"/>
<line x1="431.0" y1="19.23" x2="433.0" y2="19.23" stroke="#000" stroke-width="0.55"/>
<line x1="431.0" y1="15.57" x2="433.0" y2="15.57" stroke="#000" stroke-width="0.55"/>
<rect x="433.0" y="0.7" width="249.70000000000005" height="277.90000000000003" fill="none" stroke="#000" stroke-width="1.6"/>
<text transform="translate(403.00,220.7) rotate(-90)" font-size="9.6" textLength="161.8" lengthAdjust="spacingAndGlyphs">Dose rate [mGy/hr] on Mars surface</text>
<text x="486.90" y="301.30" font-size="9.0" text-anchor="start" textLength="32.60" lengthAdjust="spacingAndGlyphs">IP SEP I</text>
<text x="520.20" y="303.30" font-size="6.4" text-anchor="start" textLength="11.60" lengthAdjust="spacingAndGlyphs">300</text>
<text x="532.00" y="303.30" font-size="6.4" text-anchor="start" textLength="14.00" lengthAdjust="spacingAndGlyphs" font-style="italic">MeV</text>
<text x="548.90" y="301.30" font-size="9.0" text-anchor="start" textLength="79.60" lengthAdjust="spacingAndGlyphs">[/sec/sr/cm²/MeV]</text>
<text x="446.80" y="28.50" font-size="10.8" text-anchor="start" textLength="14.40" lengthAdjust="spacingAndGlyphs">(b)</text>
<text x="463.60" y="28.60" font-size="9.0" text-anchor="start" textLength="137.30" lengthAdjust="spacingAndGlyphs">Primary protons: 15-1500 MeV</text>
<text x="557.70" y="223.30" font-size="9.0" text-anchor="start" textLength="68.60" lengthAdjust="spacingAndGlyphs">c= 4.47 ± 0.37</text>
<text x="561.10" y="233.90" font-size="9.0" text-anchor="start" textLength="79.40" lengthAdjust="spacingAndGlyphs">Divergence: 8.3%</text>
<text x="560.50" y="243.30" font-size="9.0" text-anchor="start" textLength="4.80" lengthAdjust="spacingAndGlyphs" font-style="italic">δ</text>
<text x="565.60" y="243.30" font-size="9.0" text-anchor="start" textLength="64.00" lengthAdjust="spacingAndGlyphs">= 1.00 ± 0.00</text>
<circle cx="696.90" cy="7.70" r="2.3" fill="#1f77b4"/>
<text x="712.20" y="10.80" font-size="9.0" text-anchor="start" textLength="4.90" lengthAdjust="spacingAndGlyphs" font-style="italic">γ</text>
<text x="717.40" y="10.80" font-size="9.0" text-anchor="start" textLength="22.80" lengthAdjust="spacingAndGlyphs">=-4.0</text>
<line x1="688.50" y1="25.80" x2="705.50" y2="25.80" stroke="#1f77b4" stroke-width="2.4" stroke-linecap="round" stroke-dasharray="0.01 4.94" stroke-dashoffset="-1.0"/>
<text x="711.90" y="23.30" font-size="9.0" text-anchor="start" textLength="43.20" lengthAdjust="spacingAndGlyphs">y=4.92 · x</text>
<text x="715.10" y="33.20" font-size="9.0" text-anchor="start" textLength="6.00" lengthAdjust="spacingAndGlyphs">R</text>
<text x="721.10" y="30.00" font-size="6.2" text-anchor="start" textLength="3.40" lengthAdjust="spacingAndGlyphs">2</text>
<text x="727.40" y="33.20" font-size="9.0" text-anchor="start" textLength="6.60" lengthAdjust="spacingAndGlyphs">=</text>
<text x="737.60" y="33.20" font-size="9.0" text-anchor="start" textLength="17.60" lengthAdjust="spacingAndGlyphs">1.00</text>
<circle cx="696.90" cy="42.70" r="2.3" fill="#ff7f0e"/>
<text x="712.20" y="45.80" font-size="9.0" text-anchor="start" textLength="4.90" lengthAdjust="spacingAndGlyphs" font-style="italic">γ</text>
<text x="717.40" y="45.80" font-size="9.0" text-anchor="start" textLength="22.80" lengthAdjust="spacingAndGlyphs">=-3.5</text>
<line x1="688.50" y1="60.80" x2="705.50" y2="60.80" stroke="#ff7f0e" stroke-width="2.4" stroke-linecap="round" stroke-dasharray="0.01 4.94" stroke-dashoffset="-1.0"/>
<text x="711.90" y="58.30" font-size="9.0" text-anchor="start" textLength="43.20" lengthAdjust="spacingAndGlyphs">y=4.45 · x</text>
<text x="715.10" y="68.20" font-size="9.0" text-anchor="start" textLength="6.00" lengthAdjust="spacingAndGlyphs">R</text>
<text x="721.10" y="65.00" font-size="6.2" text-anchor="start" textLength="3.40" lengthAdjust="spacingAndGlyphs">2</text>
<text x="727.40" y="68.20" font-size="9.0" text-anchor="start" textLength="6.60" lengthAdjust="spacingAndGlyphs">=</text>
<text x="737.60" y="68.20" font-size="9.0" text-anchor="start" textLength="17.60" lengthAdjust="spacingAndGlyphs">1.00</text>
<circle cx="696.90" cy="77.70" r="2.3" fill="#2ca02c"/>
<text x="712.20" y="80.80" font-size="9.0" text-anchor="start" textLength="4.90" lengthAdjust="spacingAndGlyphs" font-style="italic">γ</text>
<text x="717.40" y="80.80" font-size="9.0" text-anchor="start" textLength="22.80" lengthAdjust="spacingAndGlyphs">=-3.0</text>
<line x1="688.50" y1="95.80" x2="705.50" y2="95.80" stroke="#2ca02c" stroke-width="2.4" stroke-linecap="round" stroke-dasharray="0.01 4.94" stroke-dashoffset="-1.0"/>
<text x="711.90" y="93.30" font-size="9.0" text-anchor="start" textLength="43.20" lengthAdjust="spacingAndGlyphs">y=4.24 · x</text>
<text x="715.10" y="103.20" font-size="9.0" text-anchor="start" textLength="6.00" lengthAdjust="spacingAndGlyphs">R</text>
<text x="721.10" y="100.00" font-size="6.2" text-anchor="start" textLength="3.40" lengthAdjust="spacingAndGlyphs">2</text>
<text x="727.40" y="103.20" font-size="9.0" text-anchor="start" textLength="6.60" lengthAdjust="spacingAndGlyphs">=</text>
<text x="737.60" y="103.20" font-size="9.0" text-anchor="start" textLength="17.60" lengthAdjust="spacingAndGlyphs">1.00</text>
<circle cx="696.90" cy="112.70" r="2.3" fill="#ffbb78"/>
<text x="712.20" y="115.80" font-size="9.0" text-anchor="start" textLength="4.90" lengthAdjust="spacingAndGlyphs" font-style="italic">γ</text>
<text x="717.40" y="115.80" font-size="9.0" text-anchor="start" textLength="22.80" lengthAdjust="spacingAndGlyphs">=-2.5</text>
<line x1="688.50" y1="130.80" x2="705.50" y2="130.80" stroke="#ffbb78" stroke-width="2.4" stroke-linecap="round" stroke-dasharray="0.01 4.94" stroke-dashoffset="-1.0"/>
<text x="711.90" y="128.30" font-size="9.0" text-anchor="start" textLength="43.20" lengthAdjust="spacingAndGlyphs">y=4.31 · x</text>
<text x="715.10" y="138.20" font-size="9.0" text-anchor="start" textLength="6.00" lengthAdjust="spacingAndGlyphs">R</text>
<text x="721.10" y="135.00" font-size="6.2" text-anchor="start" textLength="3.40" lengthAdjust="spacingAndGlyphs">2</text>
<text x="727.40" y="138.20" font-size="9.0" text-anchor="start" textLength="6.60" lengthAdjust="spacingAndGlyphs">=</text>
<text x="737.60" y="138.20" font-size="9.0" text-anchor="start" textLength="17.60" lengthAdjust="spacingAndGlyphs">1.00</text>
<circle cx="696.90" cy="147.70" r="2.3" fill="#f7b6d2"/>
<text x="712.20" y="150.80" font-size="9.0" text-anchor="start" textLength="4.90" lengthAdjust="spacingAndGlyphs" font-style="italic">γ</text>
<text x="717.40" y="150.80" font-size="9.0" text-anchor="start" textLength="22.80" lengthAdjust="spacingAndGlyphs">=-2.0</text>
<line x1="688.50" y1="165.80" x2="705.50" y2="165.80" stroke="#f7b6d2" stroke-width="2.4" stroke-linecap="round" stroke-dasharray="0.01 4.94" stroke-dashoffset="-1.0"/>
<text x="711.90" y="163.30" font-size="9.0" text-anchor="start" textLength="43.20" lengthAdjust="spacingAndGlyphs">y=4.61 · x</text>
<text x="715.10" y="173.20" font-size="9.0" text-anchor="start" textLength="6.00" lengthAdjust="spacingAndGlyphs">R</text>
<text x="721.10" y="170.00" font-size="6.2" text-anchor="start" textLength="3.40" lengthAdjust="spacingAndGlyphs">2</text>
<text x="727.40" y="173.20" font-size="9.0" text-anchor="start" textLength="6.60" lengthAdjust="spacingAndGlyphs">=</text>
<text x="737.60" y="173.20" font-size="9.0" text-anchor="start" textLength="17.60" lengthAdjust="spacingAndGlyphs">1.00</text>
<circle cx="696.90" cy="182.70" r="2.3" fill="#98df8a"/>
<text x="712.20" y="185.80" font-size="9.0" text-anchor="start" textLength="4.90" lengthAdjust="spacingAndGlyphs" font-style="italic">γ</text>
<text x="717.40" y="185.80" font-size="9.0" text-anchor="start" textLength="22.80" lengthAdjust="spacingAndGlyphs">=-1.5</text>
<line x1="688.50" y1="200.80" x2="705.50" y2="200.80" stroke="#98df8a" stroke-width="2.4" stroke-linecap="round" stroke-dasharray="0.01 4.94" stroke-dashoffset="-1.0"/>
<text x="711.90" y="198.30" font-size="9.0" text-anchor="start" textLength="43.20" lengthAdjust="spacingAndGlyphs">y=5.37 · x</text>
<text x="715.10" y="208.20" font-size="9.0" text-anchor="start" textLength="6.00" lengthAdjust="spacingAndGlyphs">R</text>
<text x="721.10" y="205.00" font-size="6.2" text-anchor="start" textLength="3.40" lengthAdjust="spacingAndGlyphs">2</text>
<text x="727.40" y="208.20" font-size="9.0" text-anchor="start" textLength="6.60" lengthAdjust="spacingAndGlyphs">=</text>
<text x="737.60" y="208.20" font-size="9.0" text-anchor="start" textLength="17.60" lengthAdjust="spacingAndGlyphs">1.00</text>
<circle cx="696.90" cy="217.70" r="2.3" fill="#000000"/>
<text x="712.20" y="220.80" font-size="9.0" text-anchor="start" textLength="4.90" lengthAdjust="spacingAndGlyphs" font-style="italic">γ</text>
<text x="719.80" y="220.80" font-size="9.0" text-anchor="start" textLength="36.80" lengthAdjust="spacingAndGlyphs">not-fixed</text>
<line x1="688.50" y1="235.80" x2="705.50" y2="235.80" stroke="#000000" stroke-width="2.4" stroke-linecap="round" stroke-dasharray="0.01 4.94" stroke-dashoffset="-1.0"/>
<text x="711.90" y="233.30" font-size="9.0" text-anchor="start" textLength="43.20" lengthAdjust="spacingAndGlyphs">y=4.47 · x</text>
<text x="715.10" y="243.20" font-size="9.0" text-anchor="start" textLength="6.00" lengthAdjust="spacingAndGlyphs">R</text>
<text x="721.10" y="240.00" font-size="6.2" text-anchor="start" textLength="3.40" lengthAdjust="spacingAndGlyphs">2</text>
<text x="727.40" y="243.20" font-size="9.0" text-anchor="start" textLength="6.60" lengthAdjust="spacingAndGlyphs">=</text>
<text x="737.60" y="243.20" font-size="9.0" text-anchor="start" textLength="17.60" lengthAdjust="spacingAndGlyphs">1.00</text>
</svg></body></html>
